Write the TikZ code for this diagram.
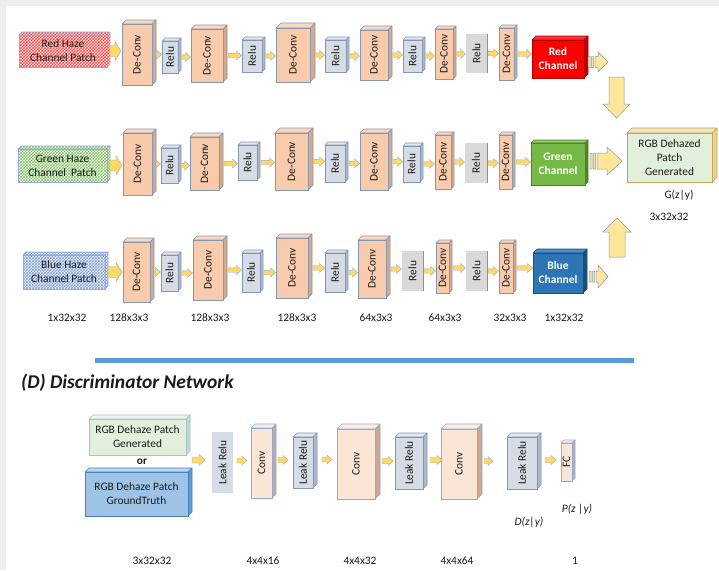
\documentclass[tikz,border=0pt]{standalone}
\usepackage{fontspec}
\setmainfont{Carlito}
\usepackage{graphicx}
\usetikzlibrary{patterns,calc}

\definecolor{pagegray}{HTML}{EDEDED}
\definecolor{bord}{HTML}{8497B0}
\definecolor{deconvF}{HTML}{F8CBAD}
\definecolor{deconvT}{HTML}{FAD7BF}
\definecolor{deconvS}{HTML}{D4A98C}
\definecolor{reluF}{HTML}{D6DCE5}
\definecolor{reluT}{HTML}{E3E7EE}
\definecolor{reluS}{HTML}{ADB9CA}
\definecolor{flatF}{HTML}{D9D9D9}
\definecolor{flatE}{HTML}{70AD47}
\definecolor{redF}{HTML}{FF0000}
\definecolor{redS}{HTML}{C00000}
\definecolor{redT}{HTML}{FF3030}
\definecolor{redB}{HTML}{B00000}
\definecolor{grnF}{HTML}{76B947}
\definecolor{grnS}{HTML}{548235}
\definecolor{grnT}{HTML}{8ECC62}
\definecolor{grnB}{HTML}{507E32}
\definecolor{bluF}{HTML}{2E75B6}
\definecolor{bluS}{HTML}{1F4E79}
\definecolor{bluT}{HTML}{4A8BC8}
\definecolor{bluB}{HTML}{1F4E79}
\definecolor{rgbF}{HTML}{E2EFDA}
\definecolor{rgbT}{HTML}{F2E6C2}
\definecolor{rgbS}{HTML}{E6D29C}
\definecolor{rgbB}{HTML}{C9A34E}
\definecolor{genF}{HTML}{E2EFDA}
\definecolor{genT}{HTML}{EDF5E8}
\definecolor{genS}{HTML}{C5DDB5}
\definecolor{genB}{HTML}{9DC3E6}
\definecolor{gtF}{HTML}{9DC3E6}
\definecolor{gtT}{HTML}{BDD7EE}
\definecolor{gtS}{HTML}{5B9BD5}
\definecolor{gtB}{HTML}{4A7EBB}
\definecolor{convF}{HTML}{FBE5D6}
\definecolor{convT}{HTML}{FDEFE6}
\definecolor{convS}{HTML}{C9A995}
\definecolor{convB}{HTML}{8FAADC}
\definecolor{arrF}{HTML}{FFD966}
\definecolor{arrB}{HTML}{9AA8C0}
\definecolor{bigarrF}{HTML}{FFE699}
\definecolor{sepblue}{HTML}{5B9BD5}
\definecolor{txt}{HTML}{1A1A1A}
\definecolor{redpat}{HTML}{FF5050}
\definecolor{grnpat}{HTML}{8CBF6A}
\definecolor{blupat}{HTML}{7FA3D8}
\definecolor{patchB}{HTML}{8EA9DB}

\newcommand\vtext[1]{\rotatebox{90}{#1}}

% name, kind, x1, y1, x2, y2, depth, text
\newcommand\cubebox[8]{%
  \path[#2 top] (#3,#4) -- (#3+#7,#4-#7) -- (#5+#7,#4-#7) -- (#5,#4) -- cycle;
  \path[#2 side] (#5,#4) -- (#5+#7,#4-#7) -- (#5+#7,#6-#7) -- (#5,#6) -- cycle;
  \node[box, #2 front, minimum width={(#5-#3)*1pt}, minimum height={(#6-#4)*1pt}]
    (#1) at ({(#3+#5)/2},{(#4+#6)/2}) {#8};}

% name, style, x1, y1, x2, y2, text
\newcommand\flatbox[7]{%
  \node[box, #2, minimum width={(#5-#3)*1pt}, minimum height={(#6-#4)*1pt}]
    (#1) at ({(#3+#5)/2},{(#4+#6)/2}) {#7};}

% [style] from, to, shaft half, head half, head length
\newcommand\blockarr[6][smallarr]{%
  \path[#1] let \p1=(#2), \p2=(#3) in
    (\x1,\y1+#4pt) -- (\x2-#6pt,\y1+#4pt) -- (\x2-#6pt,\y1+#5pt) -- (\x2,\y1)
    -- (\x2-#6pt,\y1-#5pt) -- (\x2-#6pt,\y1-#4pt) -- (\x1,\y1-#4pt) -- cycle;}

\newcommand\stripearr[6][bigarr]{%
  \path[#1] let \p1=(#2), \p2=(#3) in
    (\x1,\y1+#4pt) rectangle (\x1+2pt,\y1-#4pt)
    (\x1+3.5pt,\y1+#4pt) rectangle (\x1+5.5pt,\y1-#4pt)
    (\x1+7pt,\y1+#4pt) -- (\x2-#6pt,\y1+#4pt) -- (\x2-#6pt,\y1+#5pt) -- (\x2,\y1)
    -- (\x2-#6pt,\y1-#5pt) -- (\x2-#6pt,\y1-#4pt) -- (\x1+7pt,\y1-#4pt) -- cycle;}

% vertical: signed head length (canvas)
\newcommand\vblockarr[6][bigarr]{%
  \path[#1] let \p1=(#2), \p2=(#3), \n1={#6} in
    ({\x1-#4pt},{\y1}) -- ({\x1-#4pt},{\y2+\n1*1pt}) -- ({\x1-#5pt},{\y2+\n1*1pt}) -- ({\x1},{\y2})
    -- ({\x1+#5pt},{\y2+\n1*1pt}) -- ({\x1+#4pt},{\y2+\n1*1pt}) -- ({\x1+#4pt},{\y1}) -- cycle;}

% chain arrow between boxes: from, depth of from, to
\newcommand\chainarr[3]{%
  \blockarr{[xshift={(#2+1)*1pt}]#1.east}{[xshift=-0.5pt]#3.west}{2.2}{4.5}{5}}

\tikzset{
  box/.style={inner sep=0pt, outer sep=0pt, align=center, line width=0.6pt, text=txt},
  faceline/.style={line width=0.6pt, line join=round},
  smallarr/.style={fill=arrF, draw=arrB, line width=0.4pt, line join=miter},
  bigarr/.style={fill=bigarrF, draw=bord, line width=0.5pt},
  deconv front/.style={draw=bord, fill=deconvF},
  deconv top/.style={faceline, draw=bord, fill=deconvT},
  deconv side/.style={faceline, draw=bord, fill=deconvS},
  relu front/.style={draw=bord, fill=reluF},
  relu top/.style={faceline, draw=bord, fill=reluT},
  relu side/.style={faceline, draw=bord, fill=reluS},
  flatrelu/.style={fill=flatF},
  flatleak/.style={fill=reluF},
  redch front/.style={draw=redB, fill=redF, text=white, font=\fontsize{11.5}{14}\selectfont\bfseries},
  redch top/.style={faceline, draw=redB, fill=redT},
  redch side/.style={faceline, draw=redB, fill=redS},
  grnch front/.style={draw=grnB, fill=grnF, text=white, font=\fontsize{11.5}{14}\selectfont\bfseries},
  grnch top/.style={faceline, draw=grnB, fill=grnT},
  grnch side/.style={faceline, draw=grnB, fill=grnS},
  bluch front/.style={draw=bluB, fill=bluF, text=white, font=\fontsize{11.5}{14}\selectfont\bfseries},
  bluch top/.style={faceline, draw=bluB, fill=bluT},
  bluch side/.style={faceline, draw=bluB, fill=bluS},
  rgb front/.style={draw=rgbB, fill=rgbF},
  rgb top/.style={faceline, draw=rgbB, fill=rgbT},
  rgb side/.style={faceline, draw=rgbB, fill=rgbS},
  gen front/.style={draw=genB, fill=genF},
  gen top/.style={faceline, draw=genB, fill=genT},
  gen side/.style={faceline, draw=genB, fill=genS},
  gt front/.style={draw=gtB, fill=gtF},
  gt top/.style={faceline, draw=gtB, fill=gtT},
  gt side/.style={faceline, draw=gtB, fill=gtS},
  conv front/.style={draw=convB, fill=convF},
  conv top/.style={faceline, draw=convB, fill=convT},
  conv side/.style={faceline, draw=convB, fill=convS},
  redpat/.style={draw=patchB, preaction={fill=red!12}, pattern=crosshatch, pattern color=redpat},
  grnpat/.style={draw=patchB, preaction={fill=green!6}, pattern=crosshatch, pattern color=grnpat},
  blupat/.style={draw=patchB, preaction={fill=blue!5}, pattern=crosshatch, pattern color=blupat},
  redp front/.style={redpat},
  redp top/.style={faceline, redpat},
  redp side/.style={faceline, redpat},
  grnp front/.style={grnpat},
  grnp top/.style={faceline, grnpat},
  grnp side/.style={faceline, grnpat},
  blup front/.style={blupat},
  blup top/.style={faceline, blupat},
  blup side/.style={faceline, blupat},
  greenedge/.style={draw=flatE, line width=1pt},
  lab/.style={inner sep=0pt, text=txt},
}

\begin{document}
\begin{tikzpicture}[x=1pt, y=-1pt, font=\fontsize{11.4}{14}\selectfont]
\useasboundingbox (0,0) rectangle (719,570);
\fill[pagegray] (0,0) rectangle (719,570);
\fill[white] (6,6) rectangle (719,570);

% ---------------- Row 1 (red) ----------------
\cubebox{rp}{redp}{19}{35}{107}{67}{3}{Red Haze\\Channel Patch}
\cubebox{r1}{deconv}{122}{24}{152}{85}{4}{\vtext{De-Conv}}
\cubebox{r2}{relu}{162}{41}{178}{73}{3}{\vtext{Relu}}
\cubebox{r3}{deconv}{191}{29}{223}{82}{4}{\vtext{De-Conv}}
\cubebox{r4}{relu}{242}{40}{262}{72}{3}{\vtext{Relu}}
\cubebox{r5}{deconv}{276}{28}{310}{82}{5}{\vtext{De-Conv}}
\cubebox{r6}{relu}{325}{40}{346}{72}{3}{\vtext{Relu}}
\cubebox{r7}{deconv}{360}{30}{388}{80}{4}{\vtext{De-Conv}}
\cubebox{r8}{relu}{403}{40}{422}{72}{3}{\vtext{Relu}}
\cubebox{r9}{deconv}{435}{29}{453}{79}{3}{\vtext{De-Conv}}
\flatbox{r10}{flatrelu}{466}{34}{487}{73}{\vtext{Relu}}
\draw[greenedge] (r10.north east) -- (r10.south east);
\cubebox{r11}{deconv}{499}{28}{514}{80}{3}{\vtext{De-Conv}}
\cubebox{rc}{redch}{532}{40}{584}{78}{4}{Red\\Channel}

\blockarr[smallarr]{[xshift=3pt]rp.east}{[xshift=-1pt]r1.west}{5.5}{9.5}{6}
\chainarr{r1}{4}{r2}
\chainarr{r2}{3}{r3}
\chainarr{r3}{4}{r4}
\chainarr{r4}{3}{r5}
\chainarr{r5}{5}{r6}
\chainarr{r6}{3}{r7}
\chainarr{r7}{4}{r8}
\chainarr{r8}{3}{r9}
\chainarr{r9}{3}{r10}
\chainarr{r10}{0}{r11}
\chainarr{r11}{3}{rc}
\coordinate (rcout) at (608,62);
\stripearr{[xshift=4pt,yshift=-3pt]rc.east}{rcout}{5.5}{10}{10}

% ---------------- Row 2 (green) ----------------
\cubebox{gp}{grnp}{18}{149}{107}{182}{3}{Green Haze\\Channel\ \ Patch}
\cubebox{g1}{deconv}{123}{133}{152}{195}{4}{\vtext{De-Conv}}
\cubebox{g2}{relu}{161}{148}{178}{183}{3}{\vtext{Relu}}
\cubebox{g3}{deconv}{190}{137}{219}{190}{4}{\vtext{De-Conv}}
\cubebox{g4}{relu}{238}{145}{257}{180}{3}{\vtext{Relu}}
\cubebox{g5}{deconv}{275}{133}{308}{190}{5}{\vtext{De-Conv}}
\cubebox{g6}{relu}{325}{145}{345}{182}{3}{\vtext{Relu}}
\cubebox{g7}{deconv}{360}{133}{388}{190}{4}{\vtext{De-Conv}}
\cubebox{g8}{relu}{403}{146}{420}{182}{3}{\vtext{Relu}}
\cubebox{g9}{deconv}{435}{135}{451}{189}{3}{\vtext{De-Conv}}
\flatbox{g10}{flatrelu}{465}{143}{487}{183}{\vtext{Relu}}
\draw[greenedge] (g10.north east) -- (g10.south east);
\cubebox{g11}{deconv}{499}{135}{512}{189}{3}{\vtext{De-Conv}}
\cubebox{gc}{grnch}{531}{143}{585}{185}{3}{Green\\Channel}
\cubebox{rgb}{rgb}{627}{133}{712}{182}{5}{RGB Dehazed\\Patch\\Generated}

\blockarr[smallarr]{[xshift=3pt]gp.east}{[xshift=-1pt]g1.west}{5.5}{9.5}{6}
\chainarr{g1}{4}{g2}
\chainarr{g2}{3}{g3}
\chainarr{g3}{4}{g4}
\chainarr{g4}{3}{g5}
\chainarr{g5}{5}{g6}
\chainarr{g6}{3}{g7}
\chainarr{g7}{4}{g8}
\chainarr{g8}{3}{g9}
\chainarr{g9}{3}{g10}
\chainarr{g10}{0}{g11}
\chainarr{g11}{3}{gc}
\stripearr{[xshift=5pt,yshift=3pt]gc.east}{[xshift=-5pt]rgb.west}{8}{14}{15}

\node[lab] (gzy) at (679,195) {G(z|y)};
\node[lab] (rgbsize) at (669,217) {3x32x32};

% ---------------- Row 3 (blue) ----------------
\cubebox{bp}{blup}{23}{255}{105}{289}{3}{Blue Haze\\Channel Patch}
\cubebox{b1}{deconv}{123}{242}{150}{302}{4}{\vtext{De-Conv}}
\cubebox{b2}{relu}{161}{255}{178}{291}{3}{\vtext{Relu}}
\cubebox{b3}{deconv}{193}{240}{223}{300}{4}{\vtext{De-Conv}}
\cubebox{b4}{relu}{242}{253}{260}{292}{3}{\vtext{Relu}}
\cubebox{b5}{deconv}{276}{238}{308}{298}{4}{\vtext{De-Conv}}
\cubebox{b6}{relu}{325}{253}{345}{292}{3}{\vtext{Relu}}
\cubebox{b7}{deconv}{358}{240}{386}{298}{4}{\vtext{De-Conv}}
\flatbox{b8}{flatrelu}{402}{251}{423}{291}{\vtext{Relu}}
\draw[greenedge] (b8.north east) -- (b8.south east);
\cubebox{b9}{deconv}{436}{243}{449}{293}{3}{\vtext{De-Conv}}
\flatbox{b10}{flatrelu}{466}{251}{487}{291}{\vtext{Relu}}
\draw[greenedge] (b10.north east) -- (b10.south east);
\cubebox{b11}{deconv}{499}{243}{513}{293}{3}{\vtext{De-Conv}}
\cubebox{bc}{bluch}{533}{253}{583}{293}{4}{Blue\\Channel}

\blockarr[smallarr]{[xshift=3pt]bp.east}{[xshift=-1pt]b1.west}{5.5}{9.5}{6}
\chainarr{b1}{4}{b2}
\chainarr{b2}{3}{b3}
\chainarr{b3}{4}{b4}
\chainarr{b4}{3}{b5}
\chainarr{b5}{4}{b6}
\chainarr{b6}{3}{b7}
\chainarr{b7}{4}{b8}
\chainarr{b8}{0}{b9}
\chainarr{b9}{3}{b10}
\chainarr{b10}{0}{b11}
\chainarr{b11}{3}{bc}
\coordinate (bcout) at (608,276);
\stripearr{[xshift=6pt,yshift=-3.5pt]bc.east}{bcout}{5.5}{11.5}{10}

% vertical arrows into RGB box
\coordinate (rdtail) at (616.5,77);
\coordinate (rdtip) at (616.5,118);
\vblockarr{rdtail}{rdtip}{7.5}{13.5}{14}
\coordinate (butail) at (617,257);
\coordinate (butip) at (617,218);
\vblockarr{butail}{butip}{8}{14}{-14}

% size labels
\node[lab] (s1) at (67,318) {1x32x32};
\node[lab] (s2) at (129,318) {128x3x3};
\node[lab] (s3) at (210,318) {128x3x3};
\node[lab] (s4) at (297,318) {128x3x3};
\node[lab] (s5) at (376,318) {64x3x3};
\node[lab] (s6) at (445,318) {64x3x3};
\node[lab] (s7) at (510,318) {32x3x3};
\node[lab] (s8) at (564,318) {1x32x32};

% separator
\coordinate (sepL) at (95,360.5);
\coordinate (sepR) at (634,360.5);
\draw[sepblue, line width=4.5pt] (sepL) -- (sepR);

\node[lab, anchor=west, font=\fontsize{19.5}{22}\selectfont\bfseries\itshape] (title) at (21,383) {(D) Discriminator Network};

% ---------------- Discriminator ----------------
\cubebox{dg}{gen}{89}{419}{186}{455}{4}{RGB Dehaze Patch\\Generated}
\node[lab, font=\fontsize{11.4}{14}\selectfont\bfseries] (or) at (142,462) {or};
\cubebox{dt}{gt}{85}{472}{188}{516}{4}{RGB Dehaze Patch\\GroundTruth}

\flatbox{dl1}{flatleak}{212}{432}{233}{493}{\vtext{Leak Relu}}
\cubebox{dc1}{conv}{251}{428}{272}{498}{4}{\vtext{Conv}}
\cubebox{dl2}{relu}{293}{437}{313}{488}{4}{\vtext{Leak Relu}}
\cubebox{dc2}{conv}{337}{429}{375}{499}{5}{\vtext{Conv}}
\cubebox{dl3}{relu}{395}{437}{423}{489}{4}{\vtext{Leak Relu}}
\cubebox{dc3}{conv}{441}{429}{477}{499}{5}{\vtext{Conv}}
\cubebox{dl4}{relu}{507}{437}{537}{489}{4}{\vtext{Leak Relu}}
\cubebox{fc}{conv}{561}{443}{572}{481}{3}{\vtext{FC}}

\coordinate (dsrc) at (192,460);
\blockarr{dsrc}{[xshift=-7pt]dl1.west}{3}{5.5}{6}
\blockarr{[xshift=4pt,yshift=2pt]dl1.east}{[xshift=-4pt]dc1.west}{2.5}{4.5}{5}
\blockarr{[xshift=6pt,yshift=3pt]dc1.east}{[xshift=-5pt]dl2.west}{2.5}{4.5}{5}
\blockarr{[xshift=9pt,yshift=3pt]dl2.east}{[xshift=-5pt]dc2.west}{2.5}{4.5}{5}
\blockarr{[xshift=7pt,yshift=3pt]dc2.east}{[xshift=-2pt]dl3.west}{2.5}{4.5}{5}
\blockarr{[xshift=7pt,yshift=3pt]dl3.east}{[xshift=1pt]dc3.west}{2.5}{4.5}{5}
\blockarr{[xshift=7pt,yshift=3pt]dc3.east}{[xshift=-14pt]dl4.west}{2.5}{4.5}{5}
\blockarr{[xshift=8pt,yshift=3pt]dl4.east}{[xshift=-5pt]fc.west}{2.5}{4.5}{5}

\node[lab, font=\fontsize{11.4}{14}\selectfont\itshape] (pzy) at (577,509) {P(z |y)};
\node[lab, font=\fontsize{11.4}{14}\selectfont\itshape] (dzy) at (529,522) {D(z|y)};

\node[lab] (t1) at (152,561) {3x32x32};
\node[lab] (t2) at (263,561) {4x4x16};
\node[lab] (t3) at (360,561) {4x4x32};
\node[lab] (t4) at (457,561) {4x4x64};
\node[lab] (t5) at (575,561) {1};
\end{tikzpicture}
\end{document}
